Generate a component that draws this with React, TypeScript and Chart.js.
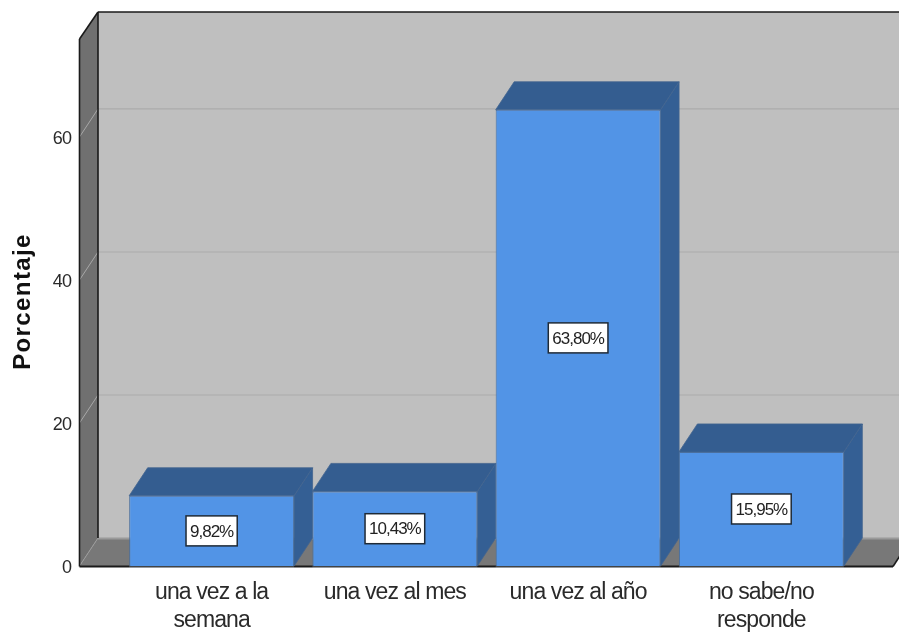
import React, { useEffect, useRef } from "react";
import { Chart, registerables } from "chart.js";

Chart.register(...registerables);

const categories = [["una vez a la", "semana"], "una vez al mes", "una vez al año", ["no sabe/no", "responde"]];
const percentages = [9.82, 10.43, 63.8, 15.95];
const valueLabels = ["9,82%", "10,43%", "63,80%", "15,95%"];
const yTicks = [0, 20, 40, 60];
const yTitle = "Porcentaje";
const yMax = 73.7;

const FONT = '"Liberation Sans", Arial, sans-serif';
const DX = 18.5;
const DY = -28;

const poly = (ctx: CanvasRenderingContext2D, pts: number[][], fill: string, stroke?: string, lw = 1) => {
  ctx.beginPath();
  pts.forEach(([x, y], i) => (i ? ctx.lineTo(x, y) : ctx.moveTo(x, y)));
  ctx.closePath();
  ctx.fillStyle = fill;
  ctx.fill();
  if (stroke) {
    ctx.strokeStyle = stroke;
    ctx.lineWidth = lw;
    ctx.stroke();
  }
};

const line = (ctx: CanvasRenderingContext2D, x1: number, y1: number, x2: number, y2: number, c: string, w: number) => {
  ctx.beginPath();
  ctx.moveTo(x1, y1);
  ctx.lineTo(x2, y2);
  ctx.strokeStyle = c;
  ctx.lineWidth = w;
  ctx.stroke();
};

const box3d = {
  id: "box3d",
  beforeDraw(chart: any) {
    // the reference's text is horizontally condensed
    (chart.ctx as any).letterSpacing = "-0.9px";
  },
  beforeDatasetsDraw(chart: any) {
    const { ctx, chartArea: a, scales } = chart;
    const y = scales.y;
    const L = a.left - 40.5;
    const R = a.right + 40;
    const T = a.top;
    const B = a.bottom;
    ctx.save();
    poly(ctx, [[L + DX, T + DY + 1], [R + DX, T + DY + 1], [R + DX, B + DY], [L + DX, B + DY]], "#bfbfbf");
    poly(ctx, [[L, T], [L + DX, T + DY + 1], [L + DX, B + DY], [L, B]], "#707070");
    poly(ctx, [[L, B], [L + DX, B + DY], [R + DX, B + DY], [R, B]], "#787878");
    line(ctx, L + DX, B + DY + 0.5, R + DX, B + DY + 0.5, "#9a9a9a", 2);
    line(ctx, L, B, L + DX, B + DY, "#9a9a9a", 1);
    yTicks.slice(1).forEach((v) => {
      const py = y.getPixelForValue(v);
      line(ctx, L, py, L + DX, py + DY, "#a8a8a8", 1);
      line(ctx, L + DX, py + DY, R + DX, py + DY, "#ababab", 1.2);
    });
    line(ctx, L, B + 0.5, L, T, "#1a1a1a", 1.6);
    line(ctx, L, T, L + DX, T + DY + 1, "#1a1a1a", 1.6);
    line(ctx, L + DX, T + DY + 1, R + DX, T + DY + 1, "#1a1a1a", 1.6);
    line(ctx, L + DX, T + DY + 1, L + DX, B + DY, "#1a1a1a", 1.6);
    line(ctx, L, B + 0.5, R, B + 0.5, "#1a1a1a", 2);
    line(ctx, R, B + 0.5, R + DX, B + DY, "#1a1a1a", 1.6);
    const bars = chart.getDatasetMeta(0).data;
    bars.forEach((b: any) => {
      const l = b.x - b.width / 2;
      const r = b.x + b.width / 2;
      poly(ctx, [[r, b.y], [r + DX, b.y + DY], [r + DX, b.base + DY], [r, b.base]], "#345f94", "#42658f", 0.8);
      poly(ctx, [[l, b.y], [l + DX, b.y + DY], [r + DX, b.y + DY], [r, b.y]], "#345d90", "#42658f", 0.8);
    });
    ctx.restore();
  },
  afterDatasetsDraw(chart: any) {
    const { ctx } = chart;
    const bars = chart.getDatasetMeta(0).data;
    ctx.save();
    bars.forEach((b: any, i: number) => {
      const cx = b.x;
      const cy = (b.y + b.base) / 2;
      ctx.font = `17px ${FONT}`;
      (ctx as any).letterSpacing = "-1px";
      const w = ctx.measureText(valueLabels[i]).width + 8;
      const h = 30;
      ctx.fillStyle = "#ffffff";
      ctx.fillRect(cx - w / 2, cy - h / 2, w, h);
      ctx.strokeStyle = "#1f2a36";
      ctx.lineWidth = 1.5;
      ctx.strokeRect(cx - w / 2, cy - h / 2, w, h);
      ctx.fillStyle = "#222222";
      ctx.textAlign = "center";
      ctx.textBaseline = "middle";
      ctx.fillText(valueLabels[i], cx, cy + 1);
      line(ctx, b.x - b.width / 2, b.base + 1.2, b.x + b.width / 2, b.base + 1.2, "#9aa0a8", 1);
    });
    ctx.restore();
  },
  afterDraw(chart: any) {
    const { ctx, chartArea: a } = chart;
    ctx.save();
    ctx.translate(23, (a.top + a.bottom) / 2 - 1);
    ctx.rotate(-Math.PI / 2);
    ctx.font = `bold 24px ${FONT}`;
    (ctx as any).letterSpacing = "1.4px";
    ctx.fillStyle = "#111111";
    ctx.textAlign = "center";
    ctx.textBaseline = "middle";
    ctx.fillText(yTitle, 0, 0);
    ctx.restore();
    (ctx as any).letterSpacing = "0px";
  },
};

export default function App() {
  const ref = useRef<HTMLCanvasElement>(null);
  useEffect(() => {
    const chart = new Chart(ref.current as HTMLCanvasElement, {
      type: "bar",
      plugins: [box3d],
      data: {
        labels: categories as any,
        datasets: [
          {
            label: yTitle,
            data: percentages,
            backgroundColor: "#5294e6",
            borderColor: "#4a6f9e",
            borderWidth: 1,
            barPercentage: 0.9,
            categoryPercentage: 1,
          },
        ],
      },
      options: {
        responsive: false,
        animation: false,
        layout: { padding: { top: 39, right: 46, left: 0, bottom: 0 } },
        plugins: { legend: { display: false }, tooltip: { enabled: false } },
        scales: {
          x: {
            grid: { display: false, drawTicks: false },
            border: { display: false },
            afterFit: (s: any) => {
              s.height = 66;
            },
            ticks: {
              autoSkip: false,
              maxRotation: 0,
              minRotation: 0,
              padding: 13,
              color: "#2a2a2a",
              font: { family: FONT, size: 23, lineHeight: 1.22 },
            },
          },
          y: {
            min: 0,
            max: yMax,
            grid: { display: false, drawTicks: false },
            border: { display: false },
            afterFit: (s: any) => {
              s.width = 120;
              s.paddingTop = 0;
              s.paddingBottom = 0;
            },
            afterBuildTicks: (s: any) => {
              s.ticks = yTicks.map((value) => ({ value }));
            },
            ticks: {
              padding: 49,
              labelOffset: 2,
              color: "#2a2a2a",
              font: { family: FONT, size: 18 },
            },
          },
        },
      },
    } as any);
    return () => chart.destroy();
  }, []);
  return (
    <canvas
      ref={ref}
      width={899}
      height={632}
      style={{ position: "fixed", left: 0, top: 0, display: "block" }}
    />
  );
}
